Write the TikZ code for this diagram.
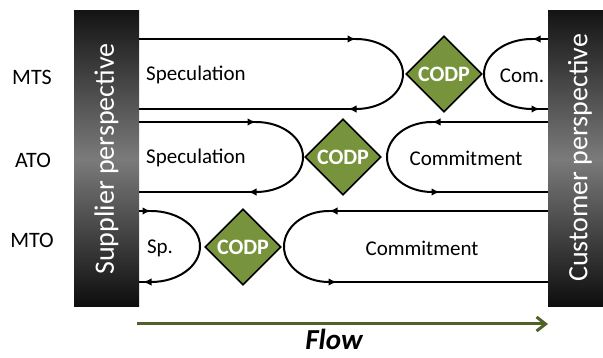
\documentclass[tikz,border=0pt]{standalone}
\usepackage{fontspec}
\setmainfont{Carlito}
\usetikzlibrary{shapes.geometric,arrows.meta,decorations.markings}
\definecolor{codpgreen}{HTML}{77933C}
\definecolor{flowgreen}{HTML}{4F6228}

\begin{document}
\begin{tikzpicture}[x=1pt,y=-1pt,
  ln/.style={line width=2pt, black},
  tipat/.style={postaction={decorate},
    decoration={markings, mark=at position #1 with {\arrow{Latex[length=8.5pt,width=7.5pt]}}}},
  codp/.style={diamond, draw=black, line width=1.6pt, fill=codpgreen,
    minimum width=76pt, minimum height=76pt, inner sep=0pt, text=white,
    font=\fontsize{22}{26}\selectfont\bfseries},
  lbl/.style={font=\fontsize{21}{25}\selectfont, inner sep=0pt},
  rowlbl/.style={font=\fontsize{22}{26}\selectfont, inner sep=0pt},
  barbox/.style={inner sep=0pt, minimum height=296pt,
    top color=black!92, bottom color=black!95, middle color=black!52},
  bartext/.style={rotate=90, text=white, font=\fontsize{28}{32}\selectfont, inner sep=0pt},
]
\useasboundingbox (0,0) rectangle (603,358);

% perspective bars
\node[barbox, minimum width=65pt] (supbar) at (106.5,159) {};
\node[barbox, minimum width=55pt] (cusbar) at (575.5,159) {};
\node[bartext] (suptext) at (106.5,159) {Supplier perspective};
\node[bartext] (custext) at (580,158) {Customer perspective};

% row labels
\node[rowlbl] (mts) at (32,77) {MTS};
\node[rowlbl] (ato) at (33,160) {ATO};
\node[rowlbl] (mto) at (32,240) {MTO};

% ---- MTS row ----
\coordinate (s1a) at (139,39);  \coordinate (s1b) at (356,39);
\coordinate (s1c) at (356,109); \coordinate (s1d) at (139,109);
\draw[ln, tipat=1] (s1a) -- (s1b);
\draw[ln] (s1b) arc[start angle=-90, end angle=90, x radius=47, y radius=35];
\draw[ln, tipat=8pt] (s1c) -- (s1d);

\coordinate (c1a) at (548,39);  \coordinate (c1b) at (532,39);
\coordinate (c1c) at (532,109); \coordinate (c1d) at (548,109);
\draw[ln, tipat=1] (c1a) -- (c1b);
\draw[ln] (c1b) arc[start angle=-90, end angle=-270, x radius=48, y radius=35];
\draw[ln, tipat=8pt] (c1c) -- (c1d);

\node[codp] (codp1) at (444,74) {CODP};
\node[lbl] (spec1) at (196,75) {Speculation};
\node[lbl] (com1) at (522,76) {Com.};

% ---- ATO row ----
\coordinate (s2a) at (139,122); \coordinate (s2b) at (256,122);
\coordinate (s2c) at (256,192); \coordinate (s2d) at (139,192);
\draw[ln, tipat=1] (s2a) -- (s2b);
\draw[ln] (s2b) arc[start angle=-90, end angle=90, x radius=47, y radius=35];
\draw[ln, tipat=8pt] (s2c) -- (s2d);

\coordinate (c2a) at (548,122); \coordinate (c2b) at (432,122);
\coordinate (c2c) at (432,192); \coordinate (c2d) at (548,192);
\draw[ln, tipat=1] (c2a) -- (c2b);
\draw[ln] (c2b) arc[start angle=-90, end angle=-270, x radius=45, y radius=35];
\draw[ln, tipat=8pt] (c2c) -- (c2d);

\node[codp] (codp2) at (343,157) {CODP};
\node[lbl] (spec2) at (196,158) {Speculation};
\node[lbl] (com2) at (466,158) {Commitment};

% ---- MTO row ----
\coordinate (s3a) at (139,211); \coordinate (s3b) at (151,211);
\coordinate (s3c) at (151,282); \coordinate (s3d) at (139,282);
\draw[ln, tipat=1] (s3a) -- (s3b);
\draw[ln] (s3b) arc[start angle=-90, end angle=90, x radius=49, y radius=35.5];
\draw[ln, tipat=8pt] (s3c) -- (s3d);

\coordinate (c3a) at (548,211); \coordinate (c3b) at (329,211);
\coordinate (c3c) at (329,282); \coordinate (c3d) at (548,282);
\draw[ln, tipat=1] (c3a) -- (c3b);
\draw[ln] (c3b) arc[start angle=-90, end angle=-270, x radius=45, y radius=35.5];
\draw[ln, tipat=8pt] (c3c) -- (c3d);

\node[codp] (codp3) at (243,247) {CODP};
\node[lbl] (spec3) at (160,248) {Sp.};
\node[lbl] (com3) at (422,248) {Commitment};

% flow direction
\coordinate (flowa) at (137,324);
\coordinate (flowb) at (548,324);
\draw[flowgreen, line width=3pt, -{Straight Barb[length=9pt,width=14pt]}] (flowa) -- (flowb);
\node[inner sep=0pt, anchor=base, font=\fontsize{29}{33}\selectfont\bfseries\itshape] (flow) at (334,350) {Flow};
\end{tikzpicture}
\end{document}
